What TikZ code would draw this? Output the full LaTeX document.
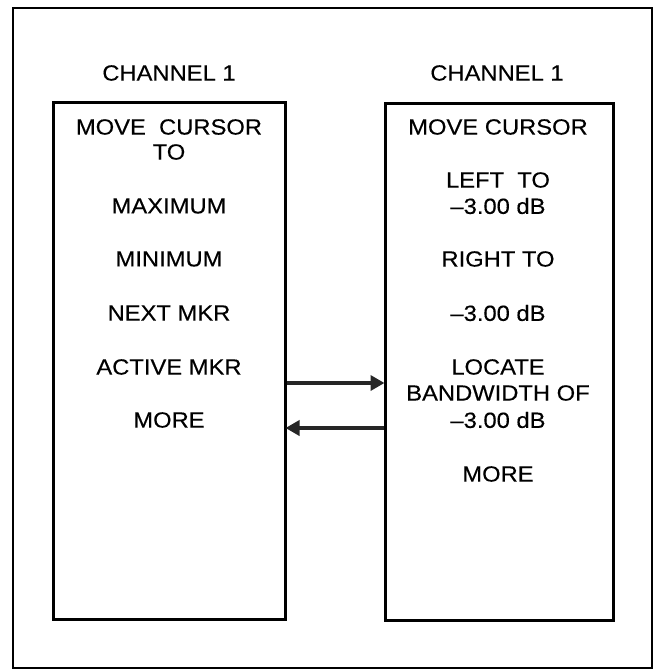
\documentclass[tikz,border=0pt]{standalone}
\usepackage{fontspec}
\setmainfont[FakeStretch=1.08,FakeBold=0.3]{Liberation Sans}
\usetikzlibrary{arrows.meta}
\begin{document}
\begin{tikzpicture}[x=1pt,y=-1pt,
  lbl/.style={font=\fontsize{22}{24}\selectfont, inner sep=0pt, anchor=center},
  panel/.style={draw, line width=3pt, inner sep=0pt},
  arr/.style={line width=3.5pt, draw=black!85, -{Triangle[length=14pt,width=15pt]}, shorten >=-1pt}]
\useasboundingbox (0,0) rectangle (658,670);
\node[draw, line width=2.6pt, minimum width=639pt, minimum height=660pt, inner sep=0pt] (frame) at (332.5,338) {};
\node[panel, minimum width=232pt, minimum height=517pt] (lbox) at (169,360.5) {};
\node[panel, minimum width=228pt, minimum height=517pt] (rbox) at (499,361.5) {};
\node[lbl] (h1) at (169,73) {CHANNEL 1};
\node[lbl] (h2) at (497,73) {CHANNEL 1};
\node[lbl] (l1) at (169,127) {MOVE\ \ CURSOR};
\node[lbl] (l2) at (169,152) {TO};
\node[lbl] (l3) at (169,206) {MAXIMUM};
\node[lbl] (l4) at (169,259) {MINIMUM};
\node[lbl] (l5) at (169,313) {NEXT MKR};
\node[lbl] (l6) at (169,367) {ACTIVE MKR};
\node[lbl] (l7) at (169,420) {MORE};
\node[lbl] (r1) at (498,127) {MOVE CURSOR};
\node[lbl] (r2) at (498,180) {LEFT\ \ TO};
\node[lbl] (r3) at (498,206) {–3.00 dB};
\node[lbl] (r4) at (498,259) {RIGHT TO};
\node[lbl] (r5) at (498,313) {–3.00 dB};
\node[lbl] (r6) at (498,367) {LOCATE};
\node[lbl] (r7) at (498,393) {BANDWIDTH OF};
\node[lbl] (r8) at (498,420) {–3.00 dB};
\node[lbl] (r9) at (498,474) {MORE};
\coordinate (ya) at (0,383);
\coordinate (yb) at (0,428);
\draw[arr] (lbox.east |- ya) -- (rbox.west |- ya);
\draw[arr] (rbox.west |- yb) -- (lbox.east |- yb);
\end{tikzpicture}
\end{document}
